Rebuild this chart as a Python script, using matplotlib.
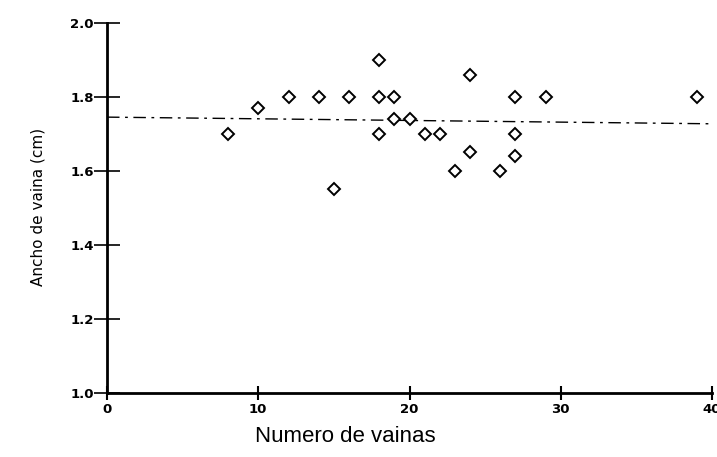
import numpy as np
import matplotlib as mpl
mpl.use('Agg')
import matplotlib.pyplot as plt

# data
vainas = [8, 10, 12, 14, 15, 16, 18, 18, 18, 19, 19, 20, 21, 22,
          23, 24, 24, 26, 27, 27, 27, 29, 39]
ancho = [1.70, 1.77, 1.80, 1.80, 1.55, 1.80, 1.90, 1.80, 1.70, 1.80, 1.74, 1.74, 1.70, 1.70,
         1.60, 1.86, 1.65, 1.60, 1.80, 1.70, 1.64, 1.80, 1.80]

# fitted line (end points)
fit_x = [0, 40]
fit_y = [1.745, 1.727]

x_ticks = [0, 10, 20, 30, 40]
y_ticks = [1.0, 1.2, 1.4, 1.6, 1.8, 2.0]

fig = plt.figure(figsize=(7.17, 4.57), dpi=100)
ax = fig.add_axes([107 / 717, 1 - 393 / 457, (712 - 107) / 717, (393 - 22.7) / 457])

ax.plot(vainas, ancho, linestyle='none', marker='D', markersize=6,
        markerfacecolor='white', markeredgecolor='black', markeredgewidth=1.4, zorder=3)
ax.plot(fit_x, fit_y, color='black', linewidth=1.0, dashes=(9, 4, 2, 4), zorder=2)

ax.set_xlim(0, 40)
ax.set_ylim(1.0, 2.0)
ax.set_xticks(x_ticks)
ax.set_xticklabels([str(t) for t in x_ticks])
ax.set_yticks(y_ticks)
ax.set_yticklabels(['%.1f' % t for t in y_ticks])

for s in ['top', 'right']:
    ax.spines[s].set_visible(False)
for s in ['left', 'bottom']:
    ax.spines[s].set_linewidth(2)
    ax.spines[s].set_color('black')

ax.tick_params(axis='y', direction='inout', length=19, width=1.2, pad=0,
               labelsize=9.5)
ax.tick_params(axis='x', direction='inout', length=10, width=1.5, pad=2,
               labelsize=9.5)
for lab in ax.get_xticklabels() + ax.get_yticklabels():
    lab.set_fontweight('bold')

fig.text(38 / 717, 1 - 207 / 457, 'Ancho de vaina (cm)', rotation=90,
         ha='center', va='center', fontsize=11,
         family=['Liberation Sans Narrow', 'DejaVu Sans'])
fig.text(345 / 717, 1 - 436 / 457, 'Numero de vainas', ha='center', va='center',
         fontsize=16, family=['Liberation Sans', 'DejaVu Sans'])

fig.savefig('out.png', dpi=100)
